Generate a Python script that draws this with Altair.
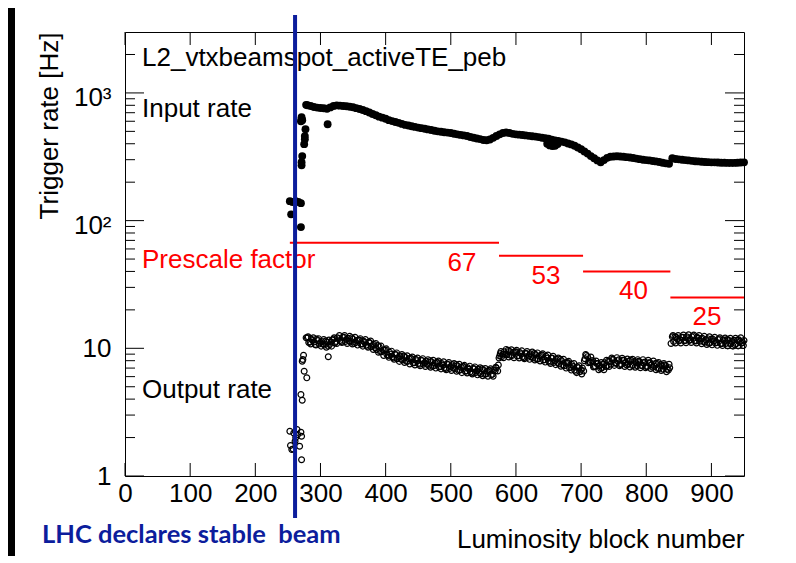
import altair as alt
import pandas as pd

# ---------------- data ----------------
input_lb = [253, 255, 257, 262, 266, 270, 270, 271, 271, 272, 275, 276, 276, 277, 270, 271, 271, 272, 278, 311,
            648, 652, 656, 660, 664,
            280, 285, 290, 295, 300, 305, 310, 315, 320, 325, 330, 335, 340, 345, 350, 355, 360, 365, 370, 375,
            380, 385, 390, 395, 400, 405, 410, 415, 420, 425, 430, 435, 440, 445, 450, 455, 460, 465, 470, 475,
            480, 485, 490, 495, 500, 505, 510, 515, 520, 525, 530, 535, 540, 545, 550, 555, 560, 565, 570, 575,
            580, 585, 590, 595, 600, 605, 610, 615, 620, 625, 630, 635, 640, 645, 650, 655, 660, 665, 670, 675,
            680, 685, 690, 695, 700, 705, 710, 715, 720, 725, 730, 735, 740, 745, 750, 755, 760, 765, 770, 775,
            780, 785, 790, 795, 800, 805, 810, 815, 820, 825, 830, 835, 840, 845, 850, 855, 860, 865, 870, 875,
            880, 885, 890, 895, 900, 905, 910, 915, 920, 925, 930, 935, 940, 945, 950]
input_rate = [142, 112, 140, 142, 140, 137, 89, 271, 287, 320, 397, 434, 459, 520, 600, 624, 646, 612, 807, 569,
              400, 388, 384, 386, 398,
              800, 790, 775, 768, 762, 758, 752, 770, 790, 798, 795, 790, 786, 780, 772, 760, 748, 735, 720, 702,
              684, 668, 652, 640, 628, 612, 602, 592, 583, 572, 562, 556, 548, 542, 535, 530, 524, 518, 512, 506,
              500, 496, 492, 489, 485, 479, 474, 469, 465, 460, 452, 446, 440, 435, 428, 426, 432, 445, 460, 474,
              486, 490, 486, 478, 474, 471, 468, 465, 461, 458, 455, 451, 446, 442, 438, 430, 425, 420, 416, 410,
              402, 395, 386, 374, 362, 348, 335, 320, 308, 296, 286, 298, 310, 316, 318, 319, 318, 316, 314, 312,
              309, 306, 303, 300, 298, 296, 293, 291, 288, 284, 281, 279, 308, 304, 302, 300, 298, 296, 294, 292,
              291, 289, 288, 287, 286, 286, 285, 284, 284, 283, 283, 283, 284, 285, 286]

output_lb = [253, 254, 256, 258, 259, 261, 262, 264, 265, 268, 270, 271, 271, 270, 272, 275, 279, 272, 273, 274, 278, 312,
             280, 284, 288, 292, 296, 300, 304, 308, 312, 316, 320, 324, 328, 332, 336, 340, 344, 348, 352, 356,
             360, 364, 368, 372, 376, 380, 384, 388, 392, 396, 400, 404, 408, 412, 416, 420, 424, 428, 432, 436,
             440, 444, 448, 452, 456, 460, 464, 468, 472, 476, 480, 484, 488, 492, 496, 500, 504, 508, 512, 516,
             520, 524, 528, 532, 536, 540, 544, 548, 552, 556, 560, 564, 568, 572, 574, 576, 580, 584, 588, 592,
             596, 600, 604, 608, 612, 616, 620, 624, 628, 632, 636, 640, 644, 648, 652, 656, 660, 664, 668, 672,
             676, 680, 684, 688, 692, 696, 700, 704, 706, 708, 712, 716, 720, 724, 728, 732, 736, 740, 744, 748,
             752, 756, 760, 764, 768, 772, 776, 780, 784, 788, 792, 796, 800, 804, 808, 812, 816, 820, 824, 828,
             832, 836, 838, 840, 844, 848, 852, 856, 860, 864, 868, 872, 876, 880, 884, 888, 892, 896, 900, 904,
             908, 912, 916, 920, 924, 928, 932, 936, 940, 944, 948,
             282, 286, 290, 294, 298, 302, 306, 310, 314, 318, 322, 326, 330, 334, 338, 342, 346, 350, 354, 358,
             362, 366, 370, 374, 378, 382, 386, 390, 394, 398, 402, 406, 410, 414, 418, 422, 426, 430, 434, 438,
             442, 446, 450, 454, 458, 462, 466, 470, 474, 478, 482, 486, 490, 494, 498, 502, 506, 510, 514, 518,
             522, 526, 530, 534, 538, 542, 546, 550, 554, 558, 562, 566, 570, 573, 575, 578, 582, 586, 590, 594,
             598, 602, 606, 610, 614, 618, 622, 626, 630, 634, 638, 642, 646, 650, 654, 658, 662, 666, 670, 674,
             678, 682, 686, 690, 694, 698, 702, 705, 710, 714, 718, 722, 726, 730, 734, 738, 742, 746, 750, 754,
             758, 762, 766, 770, 774, 778, 782, 786, 790, 794, 798, 802, 806, 810, 814, 818, 822, 826, 830, 834,
             842, 846, 850, 854, 858, 862, 866, 870, 874, 878, 882, 886, 890, 894, 898, 902, 906, 910, 914, 918,
             922, 926, 930, 934, 938, 942, 946, 950,
             281, 285, 289, 293, 297, 301, 305, 309, 313, 317, 321, 325, 329, 333, 337, 341, 345, 349, 353, 357,
             361, 365, 369, 373, 377, 381, 385, 389, 393, 397, 401, 405, 409, 413, 417, 421, 425, 429, 433, 437,
             441, 445, 449, 453, 457, 461, 465, 469, 473, 477, 481, 485, 489, 493, 497, 501, 505, 509, 513, 517,
             521, 525, 529, 533, 537, 541, 545, 549, 553, 557, 561, 565, 569, 577, 581, 585, 589, 593, 597, 601,
             605, 609, 613, 617, 621, 625, 629, 633, 637, 641, 645, 649, 653, 657, 661, 665, 669, 673, 677, 681,
             685, 689, 693, 697, 701, 707, 711, 715, 719, 723, 727, 731, 735, 739, 743, 747, 751, 755, 759, 763,
             767, 771, 775, 779, 783, 787, 791, 795, 799, 803, 807, 811, 815, 819, 823, 827, 831, 835, 841, 845,
             849, 853, 857, 861, 865, 869, 873, 877, 881, 885, 889, 893, 897, 901, 905, 909, 913, 917, 921, 925,
             929, 933, 937, 941, 945, 949]
output_rate = [2.24, 1.73, 1.61, 1.63, 2.17, 1.87, 2.0, 2.31, 2.11, 1.71, 2.2, 2.05, 1.34, 4.34, 3.92, 6.61, 5.87, 7.92, 8.17, 8.83, 12.1, 8.58,
               12.1, 11.2, 11.5, 10.7, 11.5, 11.1, 10.8, 11.4, 10.4, 11.2, 11.8, 11.3, 11.9, 11.3, 12.2, 11.7, 11.4, 12.1, 10.9, 11.5,
               11.6, 10.8, 11.1, 10.4, 11.0, 10.5, 10.1, 10.5, 9.4, 9.7, 9.7, 8.8, 9.0, 8.4, 8.9, 8.5, 8.2, 8.7, 7.9, 8.3,
               8.3, 7.7, 8.0, 7.5, 8.0, 7.7, 7.5, 8.0, 7.25, 7.65, 7.75, 7.2, 7.4, 6.95, 7.45, 7.2, 7.0, 7.45, 6.7, 7.1,
               7.2, 6.65, 6.85, 6.4, 6.9, 6.65, 6.45, 6.9, 6.25, 6.6, 6.7, 6.25, 6.65, 6.65, 8.4, 9.1, 9.0, 9.0, 9.65, 8.8,
               9.3, 9.4, 8.75, 9.05, 8.45, 9.1, 8.8, 8.6, 9.1, 8.25, 8.7, 8.85, 8.15, 8.4, 7.8, 8.35, 8.0, 7.75, 8.2, 7.4,
               7.7, 7.7, 7.1, 7.2, 6.6, 7.05, 6.75, 6.65, 8.3, 8.8, 7.9, 8.0, 7.2, 7.6, 7.3, 7.05, 7.7, 7.3, 7.9, 8.2,
               7.7, 8.0, 7.45, 8.05, 7.75, 7.55, 8.1, 7.35, 7.75, 7.9, 7.35, 7.7, 7.2, 7.7, 7.45, 7.25, 7.65, 6.95, 7.3, 7.4,
               6.85, 7.05, 10.9, 12.3, 12.3, 11.8, 11.6, 12.2, 11.5, 11.9, 11.7, 12.5, 11.4, 12.0, 11.9, 11.25, 11.65, 10.95, 11.8, 11.4,
               11.1, 11.85, 10.85, 11.5, 11.7, 10.9, 11.3, 10.65, 11.6, 11.3, 11.1,
               11.1, 11.8, 11.2, 11.8, 10.8, 11.3, 10.6, 11.2, 10.7, 11.6, 11.0, 12.1, 11.5, 12.2, 11.3, 12.0, 11.2, 11.8, 11.1, 11.6,
               10.8, 11.4, 10.6, 11.2, 10.3, 10.7, 9.8, 10.3, 9.4, 9.7, 8.9, 9.3, 8.6, 9.0, 8.3, 8.7, 8.1, 8.5, 7.9, 8.35,
               7.7, 8.2, 7.6, 8.1, 7.5, 7.95, 7.35, 7.85, 7.3, 7.75, 7.15, 7.6, 7.05, 7.55, 6.95, 7.45, 6.9, 7.3, 6.75, 7.2,
               6.6, 7.05, 6.55, 6.95, 6.45, 6.85, 6.3, 6.75, 6.3, 6.7, 6.2, 6.75, 7.0, 7.4, 8.7, 8.6, 9.4, 8.9, 9.5, 8.8,
               9.35, 8.7, 9.25, 8.6, 9.15, 8.5, 9.05, 8.4, 8.95, 8.25, 8.8, 8.1, 8.65, 7.95, 8.4, 7.75, 8.2, 7.55, 8.0, 7.3,
               7.75, 7.05, 7.45, 6.75, 7.15, 6.55, 7.0, 8.0, 8.6, 7.75, 8.0, 7.2, 7.6, 6.95, 7.5, 7.2, 7.95, 7.5, 8.15, 7.6,
               8.15, 7.5, 8.05, 7.4, 7.95, 7.35, 7.9, 7.3, 7.85, 7.3, 7.8, 7.2, 7.7, 7.1, 7.6, 6.95, 7.45, 6.85, 7.3, 6.75,
               11.3, 12.2, 11.4, 12.2, 11.45, 12.3, 11.5, 12.3, 11.45, 12.2, 11.35, 12.0, 11.15, 11.9, 11.05, 11.8, 11.0, 11.7, 10.9, 11.65,
               10.9, 11.6, 10.85, 11.55, 10.85, 11.65, 10.95, 11.5,
               12.3, 10.8, 12.1, 10.6, 11.9, 10.4, 11.7, 10.2, 11.6, 10.4, 12.1, 10.9, 12.6, 11.1, 12.6, 10.9, 12.4, 10.8, 12.2, 10.6,
               11.9, 10.4, 11.7, 10.2, 11.4, 9.8, 10.9, 9.3, 10.4, 8.8, 9.9, 8.5, 9.5, 8.2, 9.2, 7.9, 8.95, 7.75, 8.75, 7.55,
               8.55, 7.4, 8.4, 7.3, 8.3, 7.2, 8.15, 7.1, 8.05, 7.0, 7.95, 6.9, 7.85, 6.8, 7.75, 6.7, 7.6, 6.6, 7.5, 6.45,
               7.35, 6.4, 7.25, 6.3, 7.15, 6.2, 7.05, 6.1, 6.95, 6.05, 6.9, 6.05, 7.1, 9.45, 8.45, 9.8, 8.55, 9.75, 8.45, 9.65,
               8.4, 9.55, 8.3, 9.45, 8.2, 9.35, 8.1, 9.2, 7.95, 9.05, 7.8, 8.85, 7.6, 8.65, 7.45, 8.4, 7.25, 8.2, 7.0, 7.9,
               6.75, 7.6, 6.45, 7.3, 6.3, 8.95, 7.7, 8.55, 7.15, 7.95, 6.8, 7.75, 6.8, 8.05, 7.2, 8.4, 7.35, 8.45, 7.3, 8.35,
               7.2, 8.25, 7.15, 8.2, 7.1, 8.15, 7.05, 8.15, 7.05, 8.05, 6.95, 7.95, 6.8, 7.75, 6.7, 7.6, 6.55, 7.5, 12.6, 11.0,
               12.6, 11.0, 12.7, 11.05, 12.75, 11.1, 12.7, 11.0, 12.6, 10.85, 12.4, 10.7, 12.3, 10.65, 12.2, 10.55, 12.1, 10.5, 12.05, 10.45,
               12.0, 10.4, 12.0, 10.45, 12.1, 10.5]

prescale = [67, 53, 40, 25]
prescale_start = [253, 574, 703, 837]
prescale_end = [574, 703, 837, 950]
prescale_label = ["67", "53", "40", "25"]

stable_beam_lb = [261]

x_tick_values = [0, 100, 200, 300, 400, 500, 600, 700, 800, 900]
y_major_values = [1, 10, 100, 1000]
y_minor_values = [2, 3, 4, 5, 6, 7, 8, 9, 20, 30, 40, 50, 60, 70, 80, 90,
                  200, 300, 400, 500, 600, 700, 800, 900, 2000]

# ---------------- layout ----------------
W, H = 619, 444
FONT = "Liberation Sans"
BLUE = "#0c1d9c"
RED = "#ff0000"

xs = alt.Scale(domain=[0, 950], nice=False, zero=False)
ys = alt.Scale(type="log", domain=[1, 3000], nice=False)

inp = pd.DataFrame({"lb": input_lb, "rate": input_rate})
out = pd.DataFrame({"lb": output_lb, "rate": output_rate})
ps = pd.DataFrame({"start": prescale_start, "end": prescale_end, "ps": prescale, "label": prescale_label})
sb = pd.DataFrame({"lb": stable_beam_lb})
xt = pd.DataFrame({"v": x_tick_values})
ymaj = pd.DataFrame({"v": y_major_values})
ymin = pd.DataFrame({"v": y_minor_values})
one = pd.DataFrame({"a": [0]})

label_expr = ("datum.value == 1 ? '1' : datum.value == 10 ? '10' : "
              "datum.value == 100 ? '10²' : '10³'")

x_axis = alt.Axis(values=x_tick_values, ticks=False, tickSize=0, domain=False, grid=False,
                  labelFont=FONT, labelFontSize=26, labelColor="black", labelPadding=25,
                  labelBaseline="alphabetic", labelFlush=False, labelOverlap=False,
                  title="Luminosity block number", titleFont=FONT, titleFontSize=26,
                  titleFontWeight="normal", titleColor="black", titleAlign="right",
                  titleBaseline="alphabetic", titleX=W, titleY=71)
y_axis = alt.Axis(values=y_major_values, labelExpr=label_expr, ticks=False, tickSize=0,
                  domain=False, grid=False, labelFont=FONT, labelFontSize=26,
                  labelColor="black", labelPadding=14, labelAlign="right",
                  labelBaseline="middle", labelFlush=False, labelOverlap=False,
                  labelOffset=alt.ExprRef(expr="datum.value >= 100 ? 5 : 0"),
                  title="Trigger rate [Hz]", titleFont=FONT, titleFontSize=26,
                  titleFontWeight="normal", titleColor="black", titleAngle=270,
                  titleAlign="right", titleBaseline="alphabetic", titleX=-68, titleY=0)


def X(field):
    return alt.X(field, scale=xs, axis=x_axis)


def Y(field):
    return alt.Y(field, scale=ys, axis=y_axis)


output_layer = alt.Chart(out).mark_point(shape="circle", filled=False, size=34, color="black",
                                         strokeWidth=1.2, opacity=1).encode(
    x=X("lb:Q"), y=Y("rate:Q"))
input_layer = alt.Chart(inp).mark_circle(size=62, color="black", opacity=1).encode(
    x=X("lb:Q"), y=Y("rate:Q"))

# inward ticks (ROOT style)
x_ticks_bottom = alt.Chart(xt).mark_rule(color="black", strokeWidth=1).encode(
    x=X("v:Q"), y=alt.value(H - 13), y2=alt.value(H))
x_ticks_top = alt.Chart(xt).mark_rule(color="black", strokeWidth=1).encode(
    x=X("v:Q"), y=alt.value(0), y2=alt.value(13))
y_major_left = alt.Chart(ymaj).mark_rule(color="black", strokeWidth=1).encode(
    y=Y("v:Q"), x=alt.value(0), x2=alt.value(19))
y_major_right = alt.Chart(ymaj).mark_rule(color="black", strokeWidth=1).encode(
    y=Y("v:Q"), x=alt.value(W - 19), x2=alt.value(W))
y_minor_left = alt.Chart(ymin).mark_rule(color="black", strokeWidth=1).encode(
    y=Y("v:Q"), x=alt.value(0), x2=alt.value(10))
y_minor_right = alt.Chart(ymin).mark_rule(color="black", strokeWidth=1).encode(
    y=Y("v:Q"), x=alt.value(W - 10), x2=alt.value(W))

ps_lines = alt.Chart(ps).mark_rule(color=RED, strokeWidth=2).encode(
    x=X("start:Q"), x2="end:Q", y=Y("ps:Q"))
ps_text = alt.Chart(ps).mark_text(color=RED, font=FONT, fontSize=26, align="center",
                                  baseline="alphabetic", dx=-37, dy=28).encode(
    x=X("end:Q"), y=Y("ps:Q"), text="label:N")


def label(txt, x, y, color="black", size=26, weight="normal", font=FONT):
    return alt.Chart(one).mark_text(text=txt, color=color, font=font, fontSize=size,
                                    fontWeight=weight, align="left",
                                    baseline="alphabetic").encode(x=alt.value(x), y=alt.value(y))


title_t = label("L2_vtxbeamspot_activeTE_peb", 17, 34)
input_t = label("Input rate", 17, 85)
output_t = label("Output rate", 17, 366)
prescale_t = label("Prescale factor", 17, 236, color=RED)
stable_t = label("LHC declares stable\u00a0 beam", -83, 511, color=BLUE, size=25.5,
                 weight="bold", font="Lato")

beam_line = alt.Chart(sb).mark_rule(color=BLUE, strokeWidth=4).encode(
    x=X("lb:Q"), y=alt.value(-17), y2=alt.value(486))

left_strip = alt.Chart(one).mark_rect(color="black").encode(
    x=alt.value(-117), x2=alt.value(-110), y=alt.value(-24), y2=alt.value(H + 80))

chart = alt.layer(
    output_layer, input_layer,
    x_ticks_bottom, x_ticks_top, y_major_left, y_major_right, y_minor_left, y_minor_right,
    ps_lines, ps_text, title_t, input_t, output_t, prescale_t, stable_t, beam_line, left_strip,
).properties(
    width=W, height=H,
    background="white",
    autosize=alt.AutoSizeParams(type="none"),
    padding={"left": 117, "top": 24, "right": 44, "bottom": 80},
).configure_view(
    stroke="black", strokeWidth=1
)

chart.save("out.html", embed_options={"renderer": "svg", "actions": False})
